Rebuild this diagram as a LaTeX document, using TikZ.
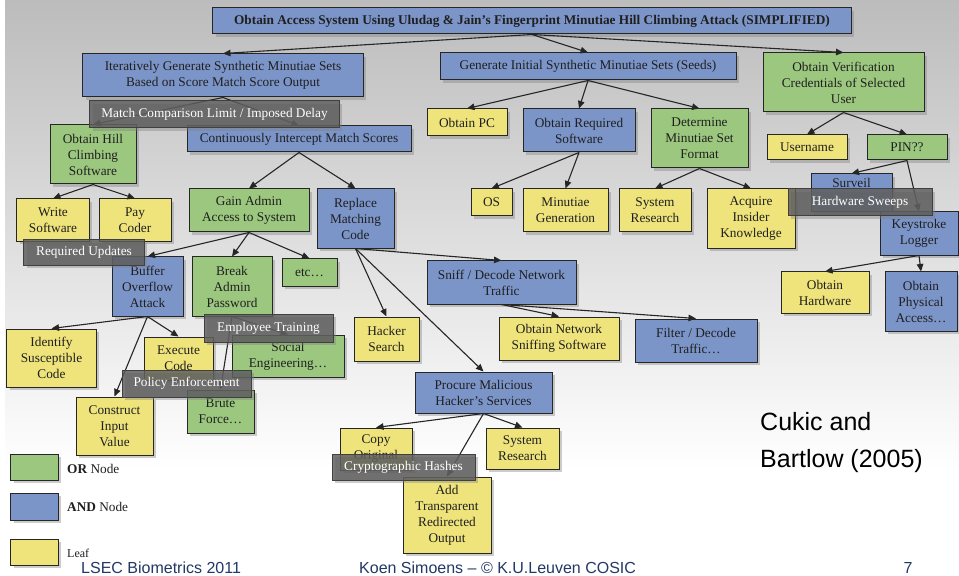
\documentclass[tikz,border=0pt]{standalone}
\usepackage{fontspec}
\setmainfont{Liberation Serif}
\newfontfamily\sansfam{Liberation Sans}
\usetikzlibrary{arrows.meta,shadows}

\definecolor{bgtop}{RGB}{188,188,188}
\definecolor{orgreen}{RGB}{156,199,127}
\definecolor{andblue}{RGB}{124,149,201}
\definecolor{leafyellow}{RGB}{239,228,123}
\definecolor{veilgray}{RGB}{92,92,92}
\definecolor{footnavy}{RGB}{34,56,102}

\newcommand\boxfont{\fontsize{13.3bp}{16bp}\selectfont}
% \bx{name}{x1}{y1}{x2}{y2}{style}{text}: box given by its corners
\newcommand\bx[7]{%
  \pgfmathsetmacro\bxw{#4-#2}\pgfmathsetmacro\bxh{#5-#3}%
  \node[#6, minimum width=\bxw bp, minimum height=\bxh bp] (#1)
    at ({(#2+#4)/2},{(#3+#5)/2}) {#7};}

\tikzset{
  box/.style={draw=black!85, line width=1bp, text=black!88, align=center,
    inner sep=0pt, font=\boxfont,
    drop shadow={shadow xshift=3bp, shadow yshift=-3bp, opacity=0.4}},
  orn/.style={box, fill=orgreen},
  andn/.style={box, fill=andblue},
  leafn/.style={box, fill=leafyellow},
  veil/.style={box, draw=black!75, fill=veilgray, fill opacity=0.82,
    text=white, text opacity=1},
  edge/.style={draw=black!85, line width=1.1bp,
    -{Triangle[length=7.5bp,width=6.5bp]}},
  foot/.style={font=\sansfam\fontsize{16bp}{18bp}\selectfont, text=footnavy,
    inner sep=0pt},
}

\begin{document}
\begin{tikzpicture}[x=1bp, y=-1bp]
\useasboundingbox (0,0) rectangle (959,576);
% slide background with the grey gradient behind the tree
\fill[white] (0,0) rectangle (959,576);
\shade[top color=bgtop, bottom color=white] (5,0) rectangle (959,470);

% tree nodes
\bx{title}{213}{8}{851}{34}{andn}{\textbf{Obtain Access System Using Uludag \& Jain's Fingerprint Minutiae Hill Climbing Attack (SIMPLIFIED)}}
\bx{iter}{83}{54}{363}{97}{andn}{Iteratively Generate Synthetic Minutiae Sets\\Based on Score Match Score Output}
\bx{seeds}{440}{53}{736}{80}{andn}{Generate Initial Synthetic Minutiae Sets (Seeds)}
\bx{verif}{763}{53}{924}{112}{orn}{Obtain Verification\\Credentials of Selected\\User}
\bx{hill}{50}{125}{136}{184}{orn}{Obtain Hill\\Climbing\\Software}
\bx{intercept}{187}{126}{411}{152}{andn}{Continuously Intercept Match Scores}
\bx{pc}{427}{109}{507}{136}{leafn}{Obtain PC}
\bx{reqsw}{523}{109}{635}{152}{andn}{Obtain Required\\Software}
\bx{fmt}{651}{109}{748}{168}{orn}{Determine\\Minutiae Set\\Format}
\bx{user}{767}{135}{847}{160}{leafn}{Username}
\bx{pin}{867}{135}{947}{160}{orn}{PIN??}
\bx{write}{17}{199}{89}{241}{leafn}{Write\\Software}
\bx{pay}{99}{199}{171}{241}{leafn}{Pay\\Coder}
\bx{admin}{189}{189}{309}{232}{orn}{Gain Admin\\Access to System}
\bx{replace}{317}{189}{394}{248}{andn}{Replace\\Matching\\Code}
\bx{os}{471}{189}{512}{216}{leafn}{OS}
\bx{mgen}{523}{189}{608}{232}{leafn}{Minutiae\\Generation}
\bx{sysres}{619}{189}{691}{232}{leafn}{System\\Research}
\bx{insider}{707}{189}{795}{248}{leafn}{Acquire\\Insider\\Knowledge}
\bx{surveil}{811}{174}{892}{212}{andn}{Surveil\\\strut}
\bx{keylog}{880}{212}{958}{255}{andn}{Keystroke\\Logger}
\bx{buffer}{112}{257}{183}{316}{andn}{Buffer\\Overflow\\Attack}
\bx{breakpw}{192}{257}{272}{316}{orn}{Break\\Admin\\Password}
\bx{etc}{282}{259}{337}{286}{orn}{etc\ldots}
\bx{sniff}{427}{261}{576}{304}{andn}{Sniff / Decode Network\\Traffic}
\bx{hw}{781}{272}{869}{313}{leafn}{Obtain\\Hardware}
\bx{phys}{885}{272}{957}{331}{andn}{Obtain\\Physical\\Access\ldots}
\bx{hacker}{354}{317}{419}{361}{leafn}{Hacker\\Search}
\bx{netsw}{499}{317}{619}{360}{leafn}{Obtain Network\\Sniffing Software}
\bx{filter}{635}{319}{757}{362}{andn}{Filter / Decode\\Traffic\ldots}
\bx{identify}{7}{329}{96}{387}{leafn}{Identify\\Susceptible\\Code}
\bx{execute}{144}{337}{213}{380}{leafn}{Execute\\Code}
\bx{social}{232}{335}{344}{377}{orn}{Social\\Engineering\ldots}
\bx{procure}{415}{372}{552}{413}{andn}{Procure Malicious\\Hacker's Services}
\bx{brute}{187}{390}{254}{433}{orn}{Brute\\Force\ldots}
\bx{construct}{76}{397}{153}{455}{leafn}{Construct\\Input\\Value}
\bx{copy}{340}{428}{412}{470}{leafn}{Copy\\Original}
\bx{sysrestwo}{486}{428}{559}{469}{leafn}{System\\Research}
\bx{addout}{403}{477}{491}{553}{leafn}{Add\\Transparent\\Redirected\\Output}

% connectors
\foreach \a/\b in {title/iter, title/seeds, title/verif,
  iter/hill, iter/intercept, seeds/pc, seeds/reqsw, seeds/fmt,
  verif/user, verif/pin, hill/write, hill/pay,
  intercept/admin, intercept/replace, reqsw/os, reqsw/mgen,
  fmt/sysres, fmt/insider, pin/surveil, pin/keylog,
  admin/buffer, admin/breakpw, admin/etc,
  replace/hacker, replace/procure, replace/sniff,
  keylog/hw, keylog/phys, buffer/identify, buffer/execute, buffer/construct,
  breakpw/social, breakpw/brute, sniff/netsw, sniff/filter,
  procure/copy, procure/sysrestwo, procure/addout}
  \draw[edge] (\a.south) -- (\b.north);

% countermeasures laid over the tree
\bx{delay}{90}{101}{339}{128}{veil}{Match Comparison Limit / Imposed Delay}
\bx{updates}{24}{240}{144}{265}{veil}{Required Updates}
\bx{training}{204}{314}{333}{342}{veil}{Employee Training}
\bx{policy}{122}{370}{251}{397}{veil}{Policy Enforcement}
\bx{hashes}{332}{454}{475}{480}{veil}{Cryptographic Hashes}
\bx{sweeps}{788}{189}{932}{216}{veil}{Hardware Sweeps}

% legend
\bx{legor}{11}{454}{58}{480}{orn}{}
\bx{legand}{11}{493}{58}{520}{andn}{}
\bx{legleaf}{11}{539}{58}{565}{leafn}{}
\node[anchor=west, inner sep=0pt, font=\boxfont, text=black!88] (legortext) at (67,469) {\textbf{OR} Node};
\node[anchor=west, inner sep=0pt, font=\boxfont, text=black!88] (legandtext) at (67,507) {\textbf{AND} Node};
\node[anchor=west, inner sep=0pt, font=\fontsize{12bp}{14bp}\selectfont, text=black!88] (legleaftext) at (67,553) {Leaf};

% reference
\node[anchor=base west, inner sep=0pt, font=\sansfam\fontsize{25bp}{30bp}\selectfont] (citeone) at (760,430) {Cukic and};
\node[anchor=base west, inner sep=0pt, font=\sansfam\fontsize{25bp}{30bp}\selectfont] (citetwo) at (760,467) {Bartlow (2005)};

% slide footer
\node[foot, anchor=west] (footleft) at (81,568) {LSEC Biometrics 2011};
\node[foot, anchor=west] (footmid) at (359,568) {Koen Simoens – © K.U.Leuven COSIC};
\node[foot] (footpage) at (908,568) {7};
\end{tikzpicture}
\end{document}
